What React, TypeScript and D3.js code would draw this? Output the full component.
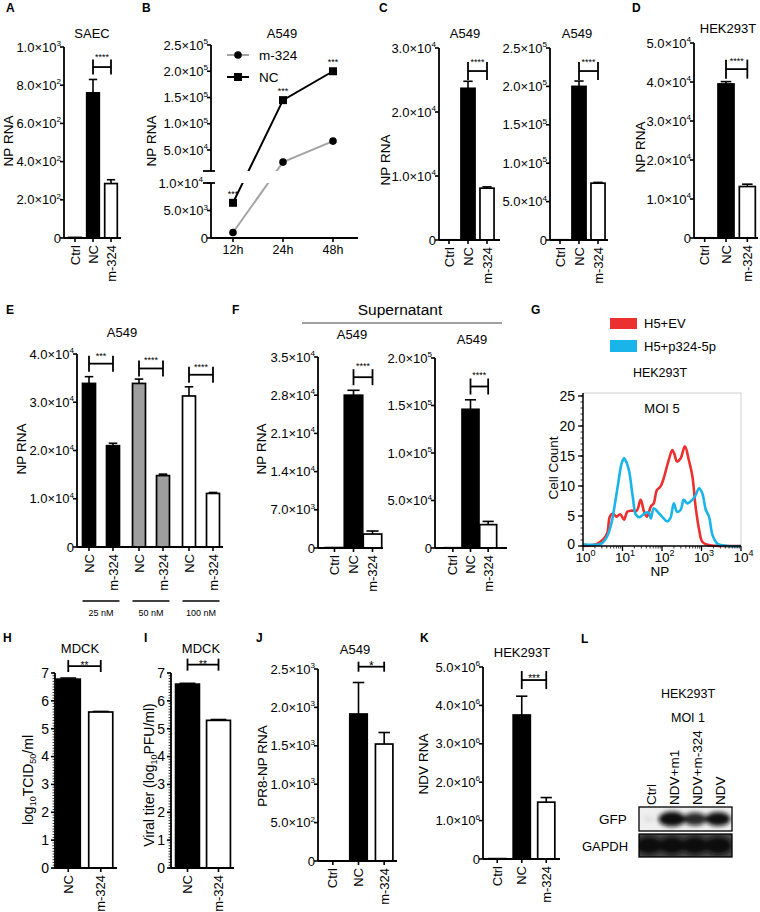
import React from "react";
import * as d3 from "d3";

const FONT = "'Liberation Sans', Arial, Helvetica, sans-serif";

// ---------------- data ----------------
const catsCtrl = ["Ctrl", "NC", "m-324"];
const catsTwo = ["NC", "m-324"];

const aValues = [3, 760, 285];
const aErrors = [0, 70, 20];
const aTicks = [0, 200, 400, 600, 800, 1000];

const bTimes = ["12h", "24h", "48h"];
const bNC = [6400, 145000, 200000];
const bM324 = [1000, 27000, 67000];
const bStars = ["***", "***", "***"];
const bUpperTicks = [50000, 100000, 150000, 200000, 250000];
const bLowerTicks = [0, 5000, 10000];

const c1Values = [30, 23700, 8100];
const c1Errors = [0, 1100, 200];
const c1Ticks = [0, 10000, 20000, 30000];
const c2Values = [300, 200000, 74000];
const c2Errors = [0, 7000, 1000];
const c2Ticks = [0, 50000, 100000, 150000, 200000, 250000];

const dValues = [50, 39500, 13200];
const dErrors = [0, 600, 600];
const dTicks = [0, 10000, 20000, 30000, 40000, 50000];

const eGroups = ["25 nM", "50 nM", "100 nM"];
const eNC = [33900, 33900, 31300];
const eNCErr = [1400, 900, 1900];
const eM324 = [21000, 14800, 11100];
const eM324Err = [500, 300, 200];
const eSigY = [38000, 37000, 35700];
const eStars = ["***", "****", "****"];
const eFills = ["#000", "#9e9e9e", "#fff"];
const eTicks = [0, 10000, 20000, 30000, 40000];

const f1Values = [80, 28000, 2560];
const f1Errors = [0, 900, 550];
const f1Ticks = [0, 7000, 14000, 21000, 28000, 35000];
const f2Values = [300, 146000, 24600];
const f2Errors = [0, 10000, 3400];
const f2Ticks = [0, 50000, 100000, 150000, 200000];

// G: flow histogram, x as log10(NP), y as cell count
const gLogEV = [0, 0.34, 0.51, 0.61, 0.68, 0.75, 0.85, 0.94, 1.04, 1.12, 1.23, 1.36, 1.46, 1.55, 1.62, 1.72, 1.79, 1.87, 1.96, 2.03, 2.09, 2.17, 2.26, 2.31, 2.38, 2.47, 2.58, 2.68, 2.77, 2.85, 2.94, 3.02, 3.15, 3.5, 4.0];
const gCountEV = [0, 0.3, 1.1, 2.1, 4.9, 5.4, 4.9, 5.3, 4.4, 5.7, 5.9, 5.9, 7.7, 5.6, 4.9, 6.6, 7.1, 9.3, 9.9, 11.0, 12.4, 14.3, 16.0, 15.4, 14.1, 14.6, 16.6, 14.3, 11.6, 6.6, 2.7, 0.7, 0.2, 0, 0];
const gLogP = [0, 0.26, 0.47, 0.61, 0.72, 0.81, 0.89, 0.98, 1.04, 1.11, 1.17, 1.26, 1.34, 1.43, 1.55, 1.66, 1.72, 1.79, 1.89, 2.0, 2.13, 2.21, 2.3, 2.38, 2.47, 2.55, 2.64, 2.72, 2.83, 2.94, 3.02, 3.11, 3.19, 3.28, 3.4, 3.66, 4.0];
const gCountP = [0.3, 0.2, 0.4, 1.6, 3.8, 7.1, 10.4, 13.8, 14.6, 13.8, 12.4, 8.2, 5.2, 4.8, 5.4, 5.6, 4.6, 6.3, 5.7, 4.9, 4.1, 4.6, 7.1, 5.7, 6.0, 7.7, 7.1, 7.4, 8.2, 9.6, 8.8, 6.0, 4.9, 1.8, 0.4, 0, 0];
const gYTicks = [0, 5, 10, 15, 20, 25];
const gXTicks = [1, 10, 100, 1000, 10000];

const hValues = [6.78, 5.6];
const hErrors = [0.04, 0.02];
const iValues = [6.6, 5.3];
const iErrors = [0.03, 0.03];
const titerTicks = [0, 1, 2, 3, 4, 5, 6, 7];

const jValues = [0, 1914, 1523];
const jErrors = [0, 410, 150];
const jTicks = [0, 500, 1000, 1500, 2000, 2500];

const kValues = [10000, 3750000, 1480000];
const kErrors = [0, 490000, 120000];
const kTicks = [0, 1000000, 2000000, 3000000, 4000000, 5000000];

const lLanes = ["Ctrl", "NDV+m1", "NDV+m-324", "NDV"];
const lGFP = [0.06, 1, 0.8, 0.9];
const lGAPDH = [1, 1, 1, 1];

// ---------------- helpers ----------------
function Sci({ v, x, y, fs }: any) {
  if (v === 0)
    return (
      <text x={x} y={y} dy="0.35em" textAnchor="end" fontSize={fs}>
        0
      </text>
    );
  const e = Math.floor(Math.log10(v) + 1e-9);
  const m = (v / Math.pow(10, e)).toFixed(1);
  return (
    <text x={x} y={y} dy="0.35em" textAnchor="end" fontSize={fs}>
      {m}×10
      <tspan dy={-fs * 0.42} fontSize={fs * 0.62}>
        {e}
      </tspan>
    </text>
  );
}

function YLabel({ x, y, fs = 13.5, children }: any) {
  return (
    <text transform={`translate(${x},${y}) rotate(-90)`} textAnchor="middle" dy="0.35em" fontSize={fs}>
      {children}
    </text>
  );
}

function Letter({ x, y, t }: any) {
  return (
    <text x={x} y={y} fontSize={12} fontWeight="bold">
      {t}
    </text>
  );
}

function Title({ x, y, t, fs = 13 }: any) {
  return (
    <text x={x} y={y} textAnchor="middle" fontSize={fs}>
      {t}
    </text>
  );
}

function Bracket({ x1, x2, y, half, stars, off, fs }: any) {
  return (
    <g>
      <g stroke="#000" strokeWidth={1.8}>
        <line x1={x1} x2={x2} y1={y} y2={y} />
        <line x1={x1} x2={x1} y1={y - half} y2={y + half} />
        <line x1={x2} x2={x2} y1={y - half} y2={y + half} />
      </g>
      <text x={(x1 + x2) / 2} y={y - off + fs * 0.55} textAnchor="middle" fontSize={fs} fill="#000">
        {stars}
      </text>
    </g>
  );
}

function BarPanel(p: any) {
  const y = d3.scaleLinear().domain([0, p.yMax]).range([p.yZero, p.yTop]);
  const x = d3
    .scaleBand<string>()
    .domain(p.cats)
    .range(p.band)
    .paddingInner(p.pi)
    .paddingOuter(p.pi / 2);
  const bw = x.bandwidth();
  const cx = (c: string) => (x(c) as number) + bw / 2;
  const tfs = p.tickFs ?? 13;
  const minorTicks: number[] = p.minor ? d3.range(0, p.yMax + 1e-9, p.minor) : [];
  return (
    <g>
      {p.cats.map((c: string, i: number) => {
        const v = p.values[i];
        const e = p.errors[i];
        const top = y(v);
        const et = y(v + e);
        return (
          <g key={c}>
            {e > 0 && (
              <g stroke="#000" strokeWidth={1.6}>
                <line x1={cx(c)} x2={cx(c)} y1={top} y2={et} />
                <line x1={cx(c) - bw * 0.33} x2={cx(c) + bw * 0.33} y1={et} y2={et} />
              </g>
            )}
            <rect x={x(c)} y={top} width={bw} height={p.yZero - top} fill={p.fills[i]} stroke="#000" strokeWidth={1.7} />
          </g>
        );
      })}
      {/* y axis */}
      <line x1={p.axisX} x2={p.axisX} y1={p.yZero} y2={p.yTop} stroke="#000" strokeWidth={1.8} />
      {minorTicks.map((t) => (
        <line key={"m" + t} x1={p.axisX - 2.5} x2={p.axisX} y1={y(t)} y2={y(t)} stroke="#000" strokeWidth={0.8} />
      ))}
      {p.ticks.map((t: number) => (
        <g key={t}>
          <line x1={p.axisX - 4} x2={p.axisX} y1={y(t)} y2={y(t)} stroke="#000" strokeWidth={1.6} />
          {p.sci ? (
            <Sci v={t} x={p.axisX - 3} y={y(t)} fs={tfs} />
          ) : (
            <text x={p.axisX - 6} y={y(t)} dy="0.35em" textAnchor="end" fontSize={tfs}>
              {t}
            </text>
          )}
        </g>
      ))}
      {/* x axis */}
      <line x1={p.axisX} x2={p.axisEnd} y1={p.yZero} y2={p.yZero} stroke="#000" strokeWidth={1.8} />
      {p.cats.map((c: string) => (
        <g key={"x" + c}>
          <line x1={cx(c)} x2={cx(c)} y1={p.yZero} y2={p.yZero + 4} stroke="#000" strokeWidth={1.6} />
          <text
            transform={`translate(${cx(c)},${p.yZero + 7}) rotate(-90)`}
            textAnchor="end"
            dy="0.35em"
            fontSize={p.catFs ?? 13}
          >
            {c}
          </text>
        </g>
      ))}
      {p.sig && (
        <Bracket
          x1={cx(p.sig.a)}
          x2={cx(p.sig.b)}
          y={y(p.sig.y)}
          half={p.sig.half}
          stars={p.sig.stars}
          off={p.sig.off}
          fs={p.sig.fs}
        />
      )}
    </g>
  );
}

// ---------------- Panel B ----------------
function PanelB() {
  const axisX = 211;
  const upTop = 45;
  const upBot = 171;
  const loTop = 183;
  const zero = 238;
  const yUp = d3.scaleLinear().domain([10000, 250000]).range([upBot, upTop]);
  const yLo = d3.scaleLinear().domain([0, 10000]).range([zero, loTop]);
  const yv = (v: number) => (v > 10000 ? yUp(v) : yLo(v));
  const x = d3.scalePoint<string>().domain(bTimes).range([233, 333]);
  const line = d3.line();
  const ptsNC = bTimes.map((t, i) => [x(t) as number, yv(bNC[i])] as [number, number]);
  const ptsM = bTimes.map((t, i) => [x(t) as number, yv(bM324[i])] as [number, number]);
  const gray = "#a3a3a3";
  return (
    <g>
      <defs>
        <clipPath id="bUp">
          <rect x={axisX} y={0} width={170} height={upBot} />
        </clipPath>
        <clipPath id="bLo">
          <rect x={axisX} y={loTop} width={170} height={70} />
        </clipPath>
      </defs>
      {["bUp", "bLo"].map((id) => (
        <g key={id} clipPath={`url(#${id})`}>
          <path d={line(ptsM) as string} fill="none" stroke={gray} strokeWidth={2} />
          <path d={line(ptsNC) as string} fill="none" stroke="#000" strokeWidth={2} />
        </g>
      ))}
      {ptsM.map((p, i) => (
        <circle key={"c" + i} cx={p[0]} cy={p[1]} r={3.8} fill="#000" />
      ))}
      {ptsNC.map((p, i) => (
        <rect key={"s" + i} x={p[0] - 4} y={p[1] - 4} width={8} height={8} fill="#000" />
      ))}
      {ptsNC.map((p, i) => (
        <text key={"t" + i} x={p[0]} y={p[1] - 11 + 5} textAnchor="middle" fontSize={9}>
          {bStars[i]}
        </text>
      ))}
      {/* axes */}
      <line x1={axisX} x2={axisX} y1={upTop} y2={upBot} stroke="#000" strokeWidth={1.8} />
      <line x1={axisX} x2={axisX} y1={loTop} y2={zero} stroke="#000" strokeWidth={1.8} />
      <line x1={axisX - 8} x2={axisX + 4} y1={upBot} y2={upBot} stroke="#000" strokeWidth={1.8} />
      <line x1={axisX - 8} x2={axisX + 4} y1={loTop} y2={loTop} stroke="#000" strokeWidth={1.8} />
      {bUpperTicks.map((t) => (
        <g key={t}>
          <line x1={axisX - 4} x2={axisX} y1={yUp(t)} y2={yUp(t)} stroke="#000" strokeWidth={1.6} />
          <Sci v={t} x={axisX - 3} y={yUp(t)} fs={13} />
        </g>
      ))}
      {bLowerTicks.map((t) => (
        <g key={"l" + t}>
          <line x1={axisX - 4} x2={axisX} y1={yLo(t)} y2={yLo(t)} stroke="#000" strokeWidth={1.6} />
          <Sci v={t} x={axisX - (t === 10000 ? 8 : 3)} y={yLo(t)} fs={13} />
        </g>
      ))}
      <line x1={axisX} x2={358} y1={zero} y2={zero} stroke="#000" strokeWidth={1.8} />
      {bTimes.map((t) => (
        <g key={t}>
          <line x1={x(t)} x2={x(t)} y1={zero} y2={zero + 4} stroke="#000" strokeWidth={1.6} />
          <text x={x(t)} y={zero + 16} textAnchor="middle" fontSize={12.5}>
            {t}
          </text>
        </g>
      ))}
      {/* legend */}
      <line x1={227} x2={249} y1={55} y2={55} stroke={gray} strokeWidth={2} />
      <circle cx={238} cy={55} r={3.8} fill="#000" />
      <text x={259} y={55} dy="0.35em" fontSize={13.5}>
        m-324
      </text>
      <line x1={227} x2={249} y1={77} y2={77} stroke="#000" strokeWidth={2} />
      <rect x={234} y={73} width={8} height={8} fill="#000" />
      <text x={259} y={77} dy="0.35em" fontSize={13.5}>
        NC
      </text>
      <Title x={282} y={38} t="A549" />
      <YLabel x={151} y={141}>NP RNA</YLabel>
    </g>
  );
}

// ---------------- Panel E ----------------
function PanelE() {
  const axisX = 77;
  const axisEnd = 223;
  const zero = 547;
  const y = d3.scaleLinear().domain([0, 40000]).range([zero, 354]);
  const gx = d3.scaleBand<string>().domain(eGroups).range([76, 226]).paddingInner(0.04).paddingOuter(0.02);
  const ix = d3.scaleBand<string>().domain(catsTwo).range([0, gx.bandwidth()]).paddingInner(0.46).paddingOuter(0.23);
  const bw = ix.bandwidth();
  return (
    <g>
      {eGroups.map((g, gi) => {
        const vals = [eNC[gi], eM324[gi]];
        const errs = [eNCErr[gi], eM324Err[gi]];
        const x0 = gx(g) as number;
        const cx = (c: string) => x0 + (ix(c) as number) + bw / 2;
        return (
          <g key={g}>
            {catsTwo.map((c, i) => {
              const top = y(vals[i]);
              const et = y(vals[i] + errs[i]);
              return (
                <g key={c}>
                  <g stroke="#000" strokeWidth={1.6}>
                    <line x1={cx(c)} x2={cx(c)} y1={top} y2={et} />
                    <line x1={cx(c) - bw * 0.33} x2={cx(c) + bw * 0.33} y1={et} y2={et} />
                  </g>
                  <rect x={x0 + (ix(c) as number)} y={top} width={bw} height={zero - top} fill={eFills[gi]} stroke="#000" strokeWidth={1.7} />
                  <line x1={cx(c)} x2={cx(c)} y1={zero} y2={zero + 4} stroke="#000" strokeWidth={1.6} />
                  <text transform={`translate(${cx(c)},${zero + 7}) rotate(-90)`} textAnchor="end" dy="0.35em" fontSize={13}>
                    {c}
                  </text>
                </g>
              );
            })}
            <line
              x1={x0 + (ix("NC") as number)}
              x2={x0 + (ix("m-324") as number) + bw}
              y1={601}
              y2={601}
              stroke="#000"
              strokeWidth={1.5}
            />
            <text x={(x0 + (ix("NC") as number) + x0 + (ix("m-324") as number) + bw) / 2} y={616} textAnchor="middle" fontSize={9}>
              {g}
            </text>
            <Bracket x1={cx("NC")} x2={cx("m-324")} y={y(eSigY[gi])} half={8} stars={eStars[gi]} off={10} fs={9} />
          </g>
        );
      })}
      <line x1={axisX} x2={axisX} y1={zero} y2={354} stroke="#000" strokeWidth={1.8} />
      {eTicks.map((t) => (
        <g key={t}>
          <line x1={axisX - 4} x2={axisX} y1={y(t)} y2={y(t)} stroke="#000" strokeWidth={1.6} />
          <Sci v={t} x={axisX - 3} y={y(t)} fs={13} />
        </g>
      ))}
      <line x1={axisX} x2={axisEnd} y1={zero} y2={zero} stroke="#000" strokeWidth={1.8} />
      <Title x={122} y={337} t="A549" />
      <YLabel x={21} y={449}>NP RNA</YLabel>
    </g>
  );
}

// ---------------- Panel G ----------------
function PanelG() {
  const x = d3.scaleLog().domain([1, 10000]).range([583, 741]);
  const y = d3.scaleLinear().domain([0, 25.5]).range([546, 393]);
  const line = d3
    .line<[number, number]>()
    .x((d) => x(Math.pow(10, d[0])))
    .y((d) => y(d[1]))
    .curve(d3.curveCatmullRom.alpha(0.5));
  const ev = gLogEV.map((l, i) => [l, gCountEV[i]] as [number, number]);
  const pp = gLogP.map((l, i) => [l, gCountP[i]] as [number, number]);
  const minorX: number[] = [];
  [1, 10, 100, 1000].forEach((d) => {
    for (let k = 2; k <= 9; k++) minorX.push(d * k);
  });
  const minorY = d3.range(0, 26, 1);
  const red = "#ec2f2f";
  const blue = "#19b5ea";
  return (
    <g>
      {/* legend */}
      <rect x={610} y={318} width={27} height={11} fill={red} />
      <text x={644} y={323.5} dy="0.35em" fontSize={13}>
        H5+EV
      </text>
      <rect x={610} y={340} width={27} height={12} fill={blue} />
      <text x={644} y={346} dy="0.35em" fontSize={13}>
        H5+p324-5p
      </text>
      <Title x={660} y={377} t="HEK293T" fs={12.5} />
      {/* frame */}
      <line x1={583} x2={741} y1={393} y2={393} stroke="#cfcfcf" strokeWidth={1} />
      <line x1={741} x2={741} y1={393} y2={546} stroke="#cfcfcf" strokeWidth={1} />
      <path d={line(ev) as string} fill="none" stroke={red} strokeWidth={2.6} strokeLinejoin="round" />
      <path d={line(pp) as string} fill="none" stroke={blue} strokeWidth={2.6} strokeLinejoin="round" />
      <line x1={583} x2={583} y1={393} y2={546} stroke="#000" strokeWidth={1.5} />
      <line x1={583} x2={741} y1={546} y2={546} stroke="#000" strokeWidth={1.5} />
      {minorY.map((t) => (
        <line key={"my" + t} x1={580.5} x2={583} y1={y(t)} y2={y(t)} stroke="#000" strokeWidth={0.8} />
      ))}
      {gYTicks.map((t) => (
        <g key={"y" + t}>
          <line x1={578} x2={583} y1={y(t)} y2={y(t)} stroke="#000" strokeWidth={1.3} />
          <text x={575} y={y(t) - (t === 0 ? 2 : 0)} dy="0.35em" textAnchor="end" fontSize={14}>
            {t}
          </text>
        </g>
      ))}
      {minorX.map((t) => (
        <line key={"mx" + t} x1={x(t)} x2={x(t)} y1={546} y2={548.5} stroke="#000" strokeWidth={0.8} />
      ))}
      {gXTicks.map((t, i) => (
        <g key={"x" + t}>
          <line x1={x(t)} x2={x(t)} y1={546} y2={551} stroke="#000" strokeWidth={1.3} />
          <text x={x(t) - 7.5} y={562} textAnchor="start" fontSize={13.5}>
            10
            <tspan dy={-6} fontSize={9}>
              {i}
            </tspan>
          </text>
        </g>
      ))}
      <text x={662} y={413} textAnchor="middle" fontSize={13}>
        MOI 5
      </text>
      <text x={660} y={576} textAnchor="middle" fontSize={13.5}>
        NP
      </text>
      <YLabel x={553} y={468} fs={13.5}>
        Cell Count
      </YLabel>
    </g>
  );
}

// ---------------- Panel L ----------------
function PanelL() {
  const lx = d3.scalePoint<string>().domain(lLanes).range([649, 718]);
  const boxX0 = 639;
  const boxX1 = 732;
  return (
    <g>
      <defs>
        <filter id="blotBlur" x="-50%" y="-50%" width="200%" height="200%">
          <feGaussianBlur stdDeviation="2.2" />
        </filter>
        <clipPath id="gfpClip">
          <rect x={boxX0} y={807} width={boxX1 - boxX0} height={24} />
        </clipPath>
        <clipPath id="gapdhClip">
          <rect x={boxX0} y={834} width={boxX1 - boxX0} height={23} />
        </clipPath>
      </defs>
      <Title x={688} y={698} t="HEK293T" fs={12.5} />
      <Title x={688} y={722} t="MOI 1" fs={12.5} />
      {lLanes.map((l) => (
        <text key={l} transform={`translate(${(lx(l) as number) + 2},${805}) rotate(-90)`} textAnchor="start" dy="0.35em" fontSize={13.5}>
          {l}
        </text>
      ))}
      <rect x={boxX0} y={807} width={boxX1 - boxX0} height={24} fill="#efefef" />
      <g clipPath="url(#gfpClip)" filter="url(#blotBlur)">
        {lLanes.map((l, i) => (
          <ellipse key={l} cx={lx(l)} cy={819} rx={4 + 9.5 * lGFP[i]} ry={3 + 4.5 * lGFP[i]} fill="#111" opacity={Math.min(1, lGFP[i] * 1.1)} />
        ))}
      </g>
      <rect x={boxX0} y={807} width={boxX1 - boxX0} height={24} fill="none" stroke="#000" strokeWidth={1.3} />
      <rect x={boxX0} y={834} width={boxX1 - boxX0} height={23} fill="#4a4a4a" />
      <g clipPath="url(#gapdhClip)" filter="url(#blotBlur)">
        {lLanes.map((l, i) => (
          <ellipse key={l} cx={lx(l)} cy={845.5} rx={14} ry={9} fill="#111" opacity={lGAPDH[i]} />
        ))}
      </g>
      <rect x={boxX0} y={834} width={boxX1 - boxX0} height={23} fill="none" stroke="#000" strokeWidth={1.3} />
      <text x={613} y={819} dy="0.35em" textAnchor="middle" fontSize={13.5}>
        GFP
      </text>
      <text x={605} y={846} dy="0.35em" textAnchor="middle" fontSize={13}>
        GAPDH
      </text>
    </g>
  );
}

// ---------------- App ----------------
export default function App() {
  const white = "#fff";
  const fillsABC = [white, "#000", white];
  const fillsTwo = ["#000", white];
  return (
    <svg width={760} height={912} style={{ position: "absolute", left: 0, top: 0, background: "#fff" }} fontFamily={FONT}>
      <rect width={760} height={912} fill="#fff" />
      {/* A */}
      <Letter x={6} y={12} t="A" />
      <BarPanel axisX={64} axisEnd={121} yTop={47} yZero={238} yMax={1000} ticks={aTicks} sci cats={catsCtrl} values={aValues} errors={aErrors} fills={fillsABC} band={[66, 120]} pi={0.3}
        sig={{ a: "NC", b: "m-324", y: 895, half: 7.5, stars: "****", off: 12, fs: 9 }} />
      <Title x={92} y={38} t="SAEC" />
      <YLabel x={8} y={141}>NP RNA</YLabel>
      {/* B */}
      <Letter x={142} y={12} t="B" />
      <PanelB />
      {/* C */}
      <Letter x={379} y={12} t="C" />
      <BarPanel axisX={439} axisEnd={500} yTop={48} yZero={240} yMax={30000} ticks={c1Ticks} sci cats={catsCtrl} values={c1Values} errors={c1Errors} fills={fillsABC} band={[439.5, 496.5]} pi={0.26}
        sig={{ a: "NC", b: "m-324", y: 26400, half: 9, stars: "****", off: 11, fs: 9 }} />
      <Title x={465} y={38} t="A549" />
      <YLabel x={385} y={160}>NP RNA</YLabel>
      <BarPanel axisX={550} axisEnd={608} yTop={48} yZero={240} yMax={250000} ticks={c2Ticks} sci cats={catsCtrl} values={c2Values} errors={c2Errors} fills={fillsABC} band={[550.5, 607.5]} pi={0.26}
        sig={{ a: "NC", b: "m-324", y: 220000, half: 9, stars: "****", off: 11, fs: 9 }} />
      <Title x={577} y={38} t="A549" />
      {/* D */}
      <Letter x={632} y={12} t="D" />
      <BarPanel axisX={694} axisEnd={758} yTop={43} yZero={238} yMax={50000} ticks={dTicks} sci cats={catsCtrl} values={dValues} errors={dErrors} fills={fillsABC} band={[694, 758]} pi={0.25}
        sig={{ a: "NC", b: "m-324", y: 43300, half: 9.5, stars: "****", off: 10, fs: 9 }} />
      <Title x={728} y={33} t="HEK293T" />
      <YLabel x={640} y={147}>NP RNA</YLabel>
      {/* E */}
      <Letter x={6} y={314} t="E" />
      <PanelE />
      {/* F */}
      <Letter x={232} y={314} t="F" />
      <text x={400} y={315} textAnchor="middle" fontSize={15.5}>
        Supernatant
      </text>
      <line x1={302} x2={502} y1={323} y2={323} stroke="#444" strokeWidth={1} />
      <BarPanel axisX={318} axisEnd={383} yTop={357} yZero={548} yMax={35000} ticks={f1Ticks} sci cats={catsCtrl} values={f1Values} errors={f1Errors} fills={fillsABC} band={[325, 382]} pi={0.03}
        sig={{ a: "NC", b: "m-324", y: 31300, half: 8, stars: "****", off: 13, fs: 9 }} />
      <Title x={352} y={339} t="A549" />
      <YLabel x={261} y={449}>NP RNA</YLabel>
      <BarPanel axisX={435} axisEnd={507} yTop={358} yZero={548} yMax={200000} ticks={f2Ticks} sci cats={catsCtrl} values={f2Values} errors={f2Errors} fills={fillsABC} band={[444, 497]} pi={0.04}
        sig={{ a: "NC", b: "m-324", y: 170000, half: 8, stars: "****", off: 13, fs: 9 }} />
      <Title x={472} y={344} t="A549" />
      {/* G */}
      <Letter x={531} y={314} t="G" />
      <PanelG />
      {/* H */}
      <Letter x={3} y={642} t="H" />
      <BarPanel axisX={55} axisEnd={117} yTop={673} yZero={868} yMax={7} ticks={titerTicks} minor={0.1} cats={catsTwo} values={hValues} errors={hErrors} fills={fillsTwo} band={[52, 117]} pi={0.26} tickFs={14}
        sig={{ a: "NC", b: "m-324", y: 7.25, half: 6, stars: "**", off: 3, fs: 10 }} />
      <Title x={80} y={653} t="MDCK" />
      <YLabel x={28} y={780} fs={14}>
        log<tspan dy={3} fontSize={9}>10</tspan>
        <tspan dy={-3}>TCID</tspan>
        <tspan dy={3} fontSize={9}>50</tspan>
        <tspan dy={-3}>/ml</tspan>
      </YLabel>
      {/* I */}
      <Letter x={144} y={642} t="I" />
      <BarPanel axisX={171} axisEnd={234} yTop={673} yZero={868} yMax={7} ticks={titerTicks} minor={0.1} cats={catsTwo} values={iValues} errors={iErrors} fills={fillsTwo} band={[172, 234]} pi={0.23} tickFs={14}
        sig={{ a: "NC", b: "m-324", y: 7.3, half: 6, stars: "**", off: 2, fs: 10 }} />
      <Title x={201} y={653} t="MDCK" />
      <YLabel x={149} y={775} fs={14}>
        Viral titer (log<tspan dy={3} fontSize={9}>10</tspan>
        <tspan dy={-3}>PFU/ml)</tspan>
      </YLabel>
      {/* J */}
      <Letter x={256} y={642} t="J" />
      <BarPanel axisX={318} axisEnd={397} yTop={669} yZero={861} yMax={2500} ticks={jTicks} sci cats={catsCtrl} values={jValues} errors={jErrors} fills={fillsABC} band={[320, 397]} pi={0.32}
        sig={{ a: "NC", b: "m-324", y: 2530, half: 5, stars: "*", off: 3.5, fs: 12 }} />
      <Title x={355} y={654} t="A549" />
      <YLabel x={262} y={766}>PR8-NP RNA</YLabel>
      {/* K */}
      <Letter x={420} y={642} t="K" />
      <BarPanel axisX={483} axisEnd={560} yTop={667} yZero={859} yMax={5000000} ticks={kTicks} sci cats={catsCtrl} values={kValues} errors={kErrors} fills={fillsABC} band={[485, 558.5]} pi={0.3}
        sig={{ a: "NC", b: "m-324", y: 4660000, half: 9, stars: "***", off: 3.5, fs: 10 }} />
      <Title x={522} y={657} t="HEK293T" />
      <YLabel x={423} y={764}>NDV RNA</YLabel>
      {/* L */}
      <Letter x={581} y={643} t="L" />
      <PanelL />
    </svg>
  );
}
